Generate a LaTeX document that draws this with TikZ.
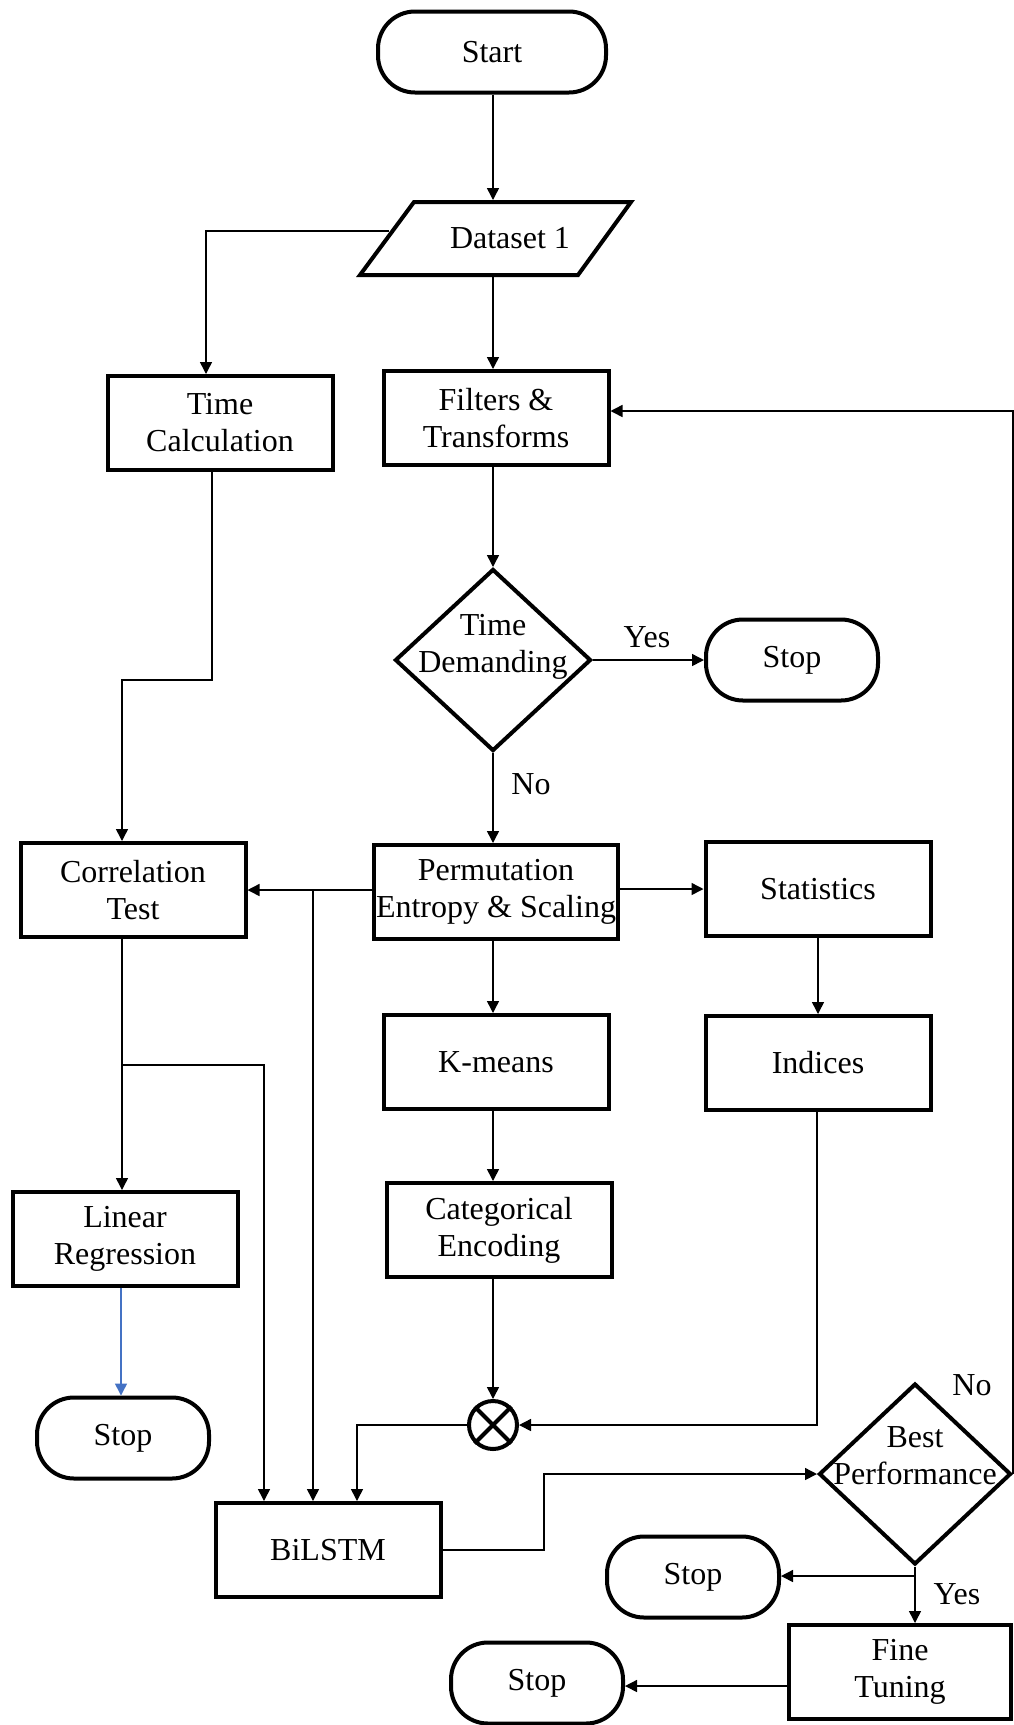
\documentclass[tikz,border=0pt]{standalone}
\usepackage{fontspec}
\setmainfont{Liberation Serif}
\usetikzlibrary{arrows.meta,shapes.geometric,calc}
\definecolor{arrowblue}{RGB}{68,114,196}
\begin{document}
\begin{tikzpicture}[x=1pt,y=-1pt,
  font=\fontsize{32}{37}\selectfont,
  box/.style={draw, line width=4pt, minimum width=225pt, minimum height=94pt, inner sep=0pt, align=center},
  term/.style={draw, line width=4pt, rounded corners=37pt, minimum width=172pt, minimum height=81pt, inner sep=0pt, align=center},
  dia/.style={draw, diamond, line width=4pt, inner sep=0pt},
  lbl/.style={align=center, inner sep=0pt},
  conn/.style={line width=1.5pt},
  arr/.style={conn, -{Triangle[length=12pt,width=12pt]}},
]
\useasboundingbox (0,0) rectangle (1014,1725);

% nodes
\node[term, minimum width=228pt] (start) at (492,52) {Start};
\draw[line width=4pt, line join=miter] (414,202) -- (631,202) -- (578,275) -- (360,275) -- cycle;
\node[lbl] (ds) at (510,238) {Dataset 1};
\coordinate (dstop) at (493,200);
\coordinate (dsbot) at (493,277);
\coordinate (dsleft) at (389,231);

\node[box] (tc) at (220,423) {Time\\Calculation};
\node[box] (ft) at (496,418) {Filters \&\\Transforms};

\node[dia, minimum width=196pt, minimum height=182pt] (td) at (493,660) {};
\node[lbl] (tdt) at (493,647) {Time\\Demanding};
\node[term] (s1) at (792,660) {Stop};
\node[lbl] (yes1) at (647,637) {Yes};
\node[lbl] (no1) at (531,784) {No};

\node[box] (ct) at (133,890) {Correlation\\Test};
\node[box, minimum width=244pt] (pe) at (496,892) {Permutation\\Entropy \& Scaling};
\node[box] (st) at (818,889) {Statistics};

\node[box] (km) at (496,1062) {K-means};
\node[box] (ix) at (818,1063) {Indices};
\node[box] (ce) at (499,1230) {Categorical\\Encoding};
\node[box] (lr) at (125,1239) {Linear\\Regression};
\node[term] (s0) at (123,1438) {Stop};

\node[draw, circle, line width=4pt, minimum size=48pt, inner sep=0pt] (ox) at (493,1425) {};
\draw[line width=4pt] (ox.north west) -- (ox.south east) (ox.north east) -- (ox.south west);

\node[box] (bl) at (328,1550) {BiLSTM};

\node[dia, minimum width=192pt, minimum height=181pt] (bp) at (915,1474) {};
\node[lbl] (bpt) at (915,1456) {Best\\Performance};
\node[lbl] (no2) at (972,1385) {No};
\node[term] (s2) at (693,1577) {Stop};
\node[lbl] (yes2) at (957,1594) {Yes};
\node[box, minimum width=222pt] (fn) at (900,1672) {Fine\\Tuning};
\node[term] (s3) at (537,1683) {Stop};

\coordinate (j1) at (313,890);
\coordinate (j2) at (122,1065);
\coordinate (j3) at (915,1576);
\coordinate (k1) at (544,1474);

% connectors
\draw[arr] (start.south -| dstop) -- (dstop);
\draw[arr] (dsbot) -- (dsbot |- ft.north);
\draw[arr] (dsleft) -| ([xshift=-14pt]tc.north);
\draw[arr] ([xshift=-8pt]tc.south) -- ++(0,208) -| ([xshift=-11pt]ct.north);
\draw[arr] (ft.south -| td.north) -- (td.north);
\draw[arr] (td.east) -- (s1.west);
\draw[arr] (td.south) -- (pe.north -| td.south);
\draw[arr] (pe.west |- ct.east) -- (ct.east);
\draw[arr] (pe.east |- st.west) -- (st.west);
\draw[arr] (j1) -- (j1 |- bl.north);
\draw[arr] (st.south) -- (ix.north);
\draw[arr] (pe.south -| td.south) -- (km.north -| td.south);
\draw[arr] (km.south -| td.south) -- (ce.north -| td.south);
\draw[arr] (ce.south -| ox.north) -- (ox.north);
\draw[arr] ([xshift=-1pt]ix.south) |- (ox.east);
\draw[arr] (ox.west) -| ([xshift=29pt]bl.north);
\draw[arr] ([xshift=-11pt]ct.south) -- (lr.north -| j2);
\draw[arr] (j2) -| ([xshift=-64pt]bl.north);
\draw[arr, color=arrowblue] ([xshift=-4pt]lr.south) -- (s0.north -| 121,0);
\draw[arr] (bl.east) -| (k1) -- (bp.west);
\draw[arr] (bp.east) -- (bp.east |- 0,411) -- ([yshift=7pt]ft.east);
\draw[arr] (bp.south) -- (fn.north -| bp.south);
\draw[arr] (j3) -- (s2.east |- j3);
\draw[arr] ([yshift=-14pt]fn.west) -- ([yshift=-14pt]fn.west -| s3.east);
\end{tikzpicture}
\end{document}
